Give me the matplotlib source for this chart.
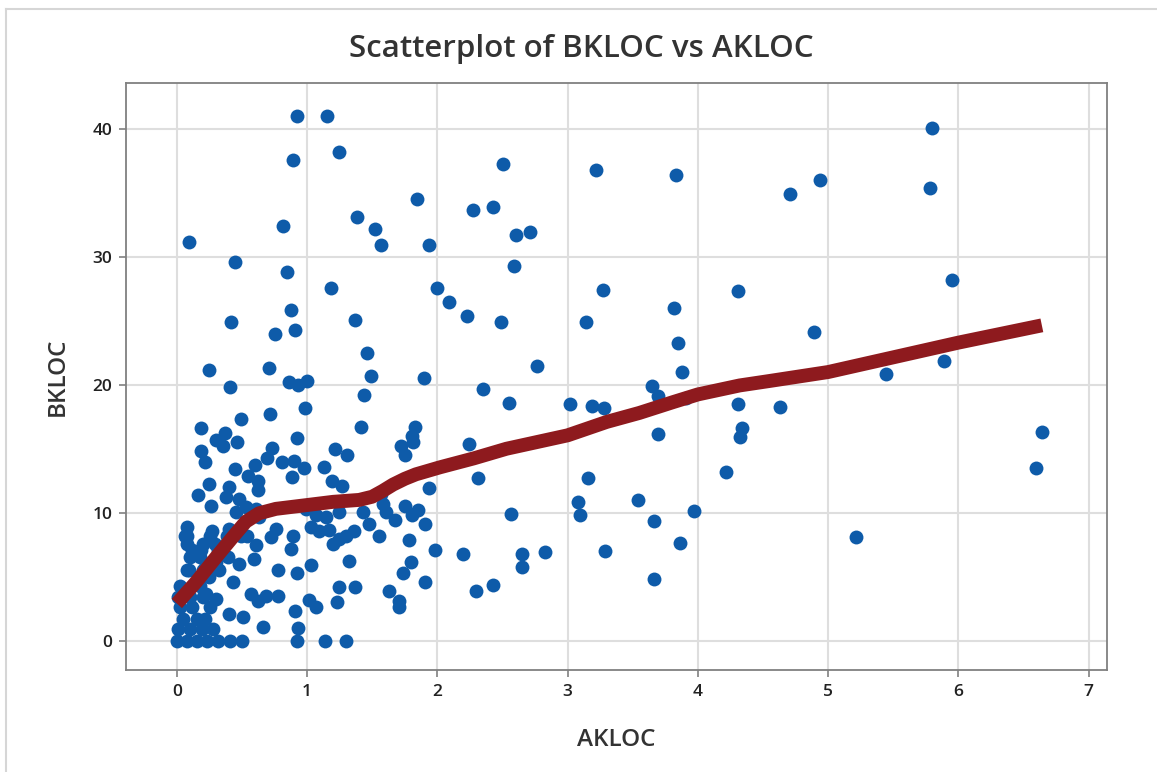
import matplotlib
matplotlib.use("Agg")
import matplotlib.pyplot as plt
from matplotlib.lines import Line2D

# ── Dados (AKLOC, BKLOC) por região ──────────────────────────────────────────
pts_direita = [
    (4.706, 34.95), (4.936, 36.05), (5.796, 40.1), (5.783, 35.4), (5.952, 28.2),
    (4.89, 24.1), (5.443, 20.85), (5.888, 21.9), (4.63, 18.3), (6.642, 16.3),
    (6.596, 13.46), (5.213, 8.1),
]

pts_meio = [
    (2.506, 37.3), (3.215, 36.8), (3.831, 36.4), (2.276, 33.7), (2.43, 33.9),
    (2.603, 31.7), (2.708, 31.95), (2.585, 29.3), (2.0, 27.6), (2.09, 26.45),
    (2.23, 25.4), (2.49, 24.9), (3.273, 27.45), (3.138, 24.9), (3.816, 26.0),
    (4.307, 27.3), (3.844, 23.3), (3.877, 21.0), (2.767, 21.5), (2.352, 19.7),
    (2.552, 18.6), (3.015, 18.5), (3.184, 18.35), (3.281, 18.2), (3.647, 19.9),
    (3.695, 19.1), (3.908, 18.95), (4.307, 18.5), (4.335, 16.6), (4.322, 15.95),
    (3.69, 16.15), (2.245, 15.35), (2.309, 12.7), (3.153, 12.7), (4.215, 13.2),
    (3.077, 10.85), (3.094, 9.85), (3.54, 11.0), (3.66, 9.37), (3.97, 10.16),
    (2.567, 9.87), (1.98, 7.1), (2.2, 6.75), (2.647, 6.75), (2.647, 5.77),
    (2.828, 6.9), (3.29, 7.0), (3.862, 7.65), (2.294, 3.9), (2.43, 4.36),
    (3.66, 4.83),
]

pts_topo_esq = [
    (0.925, 41.05), (1.155, 41.05), (1.247, 38.2), (0.894, 37.6), (1.846, 34.5),
    (1.385, 33.1), (1.523, 32.2), (1.57, 30.9), (1.935, 30.9), (0.815, 32.4),
    (0.094, 31.2), (0.447, 29.6), (0.846, 28.85), (1.186, 27.6), (0.876, 25.85),
    (0.416, 24.9), (1.37, 25.05), (0.91, 24.3), (0.754, 24.0), (1.462, 22.45),
    (0.25, 21.15), (0.708, 21.35), (1.49, 20.7), (1.895, 20.5),
]

pts_baixo_esq = [
    (0.405, 19.8), (0.86, 20.2), (0.93, 20.0), (1.0, 20.3), (1.44, 19.2),
    (0.986, 18.2), (0.717, 17.75), (0.493, 17.3), (0.186, 16.65), (1.414, 16.7),
    (1.83, 16.7), (0.372, 16.2), (0.30, 15.7), (0.352, 15.25), (0.462, 15.5),
    (0.922, 15.85), (1.805, 16.0), (1.81, 15.5), (1.72, 15.2), (1.75, 14.55),
    (0.186, 14.85), (0.216, 13.95), (0.734, 15.05), (0.695, 14.3), (1.216, 15.0),
    (1.303, 14.55), (0.81, 14.0), (0.897, 14.05), (0.978, 13.5), (0.883, 12.8),
    (0.449, 13.4), (0.602, 13.7), (1.13, 13.6), (0.544, 12.9), (0.25, 12.25),
    (0.16, 11.4), (0.62, 12.5), (0.403, 12.0), (0.62, 11.75), (1.19, 12.45),
    (1.27, 12.05), (1.938, 11.9), (0.262, 10.5), (0.378, 11.2), (0.48, 11.1),
    (1.567, 11.5), (0.454, 10.05), (0.531, 10.45), (0.633, 9.65), (0.608, 10.3),
    (0.992, 10.3), (1.07, 9.8), (1.145, 9.65), (1.248, 10.05), (1.427, 10.05),
    (1.58, 10.7), (1.605, 10.05), (1.754, 10.5), (1.85, 10.2), (1.908, 9.15),
    (1.677, 9.4), (1.477, 9.1), (1.805, 9.8), (0.078, 8.85), (0.078, 8.15),
    (0.27, 8.6), (0.403, 8.75), (1.03, 8.85), (1.094, 8.6), (1.17, 8.65),
    (1.3, 8.2), (1.362, 8.6), (0.761, 8.75), (0.493, 8.2), (0.403, 7.95),
    (0.723, 8.1), (0.889, 8.2), (1.554, 8.2), (1.784, 7.9), (1.196, 7.55),
    (1.248, 7.95), (0.876, 7.2), (0.608, 7.45), (0.595, 6.4), (0.122, 6.8),
    (0.186, 7.05), (0.096, 5.5), (0.224, 5.9), (0.30, 6.15), (0.326, 5.5),
    (0.48, 6.0), (0.39, 6.5), (0.25, 4.95), (0.429, 4.55), (0.774, 5.5),
    (0.922, 5.3), (1.03, 5.9), (1.324, 6.2), (1.734, 5.3), (1.797, 6.15),
    (1.908, 4.55), (1.248, 4.2), (1.37, 4.2), (1.631, 3.9), (1.708, 3.1),
    (1.708, 2.6), (0.57, 3.65), (0.62, 3.1), (0.684, 3.5), (0.774, 3.5),
    (1.017, 3.2), (1.068, 2.6), (1.23, 3.0), (0.91, 2.35), (0.403, 2.1),
    (0.51, 1.85), (0.66, 1.05), (0.928, 1.0), (0.30, 3.25), (0.224, 3.65),
]

pts_zero = [
    (0.0, 0), (0.077, 0), (0.153, 0), (0.23, 0), (0.32, 0), (0.41, 0),
    (0.498, 0), (0.922, 0), (1.14, 0), (1.30, 0),
]

pts_nucleo = [
    (0.012, 0.9), (0.1, 0.9), (0.19, 0.9), (0.28, 0.9), (0.05, 1.7),
    (0.153, 1.7), (0.216, 1.7), (0.025, 2.6), (0.114, 2.6), (0.255, 2.6),
    (0.012, 3.4), (0.1, 3.4), (0.204, 3.4), (0.025, 4.3), (0.178, 4.3),
    (0.076, 5.5), (0.204, 5.5), (0.1, 6.5), (0.178, 6.5), (0.114, 7.05),
    (0.32, 7.05), (0.076, 7.55), (0.204, 7.55), (0.293, 7.55), (0.063, 8.2),
    (0.255, 8.2), (0.383, 8.2), (0.536, 8.2),
]

# curva de suavização (lowess)
lowess_x = [0.0, 0.15, 0.3, 0.43, 0.53, 0.63, 0.76, 1.0, 1.2, 1.4, 1.5, 1.58,
            1.66, 1.75, 1.835, 2.02, 2.28, 2.53, 3.0, 3.3, 3.55, 3.81, 4.0,
            4.32, 4.55, 5.0, 6.0, 6.64]
lowess_y = [2.9, 4.6, 6.5, 8.1, 9.3, 9.95, 10.3, 10.6, 10.85, 11.0, 11.25,
            11.7, 12.2, 12.65, 13.0, 13.55, 14.25, 15.0, 16.05, 17.1, 17.8,
            18.65, 19.25, 19.95, 20.3, 21.0, 23.3, 24.65]

x_ticks = [0, 1, 2, 3, 4, 5, 6, 7]
y_ticks = [0, 10, 20, 30, 40]

AZUL = "#0E5BA9"
VERMELHO = "#8E1A1E"
CINZA = "#333333"

todos = pts_direita + pts_meio + pts_topo_esq + pts_baixo_esq + pts_zero + pts_nucleo
akloc = [p[0] for p in todos]
bkloc = [p[1] for p in todos]

plt.rcParams["font.family"] = ["Open Sans", "DejaVu Sans"]

fig = plt.figure(figsize=(11.57, 7.72), dpi=100)
ax = fig.add_axes([126 / 1157, 1 - 670 / 772, (1107 - 126) / 1157, (670 - 83) / 772])

ax.plot(akloc, bkloc, "o", color=AZUL, markersize=10, markeredgewidth=0, zorder=3)
ax.plot(lowess_x, lowess_y, color=VERMELHO, linewidth=10, solid_capstyle="butt",
        solid_joinstyle="round", zorder=4)

ax.set_xlim(-0.39, 7.14)
ax.set_ylim(-2.3, 43.6)
ax.set_xticks(x_ticks)
ax.set_yticks(y_ticks)
ax.grid(True, color="#DEDEDE", linewidth=1.5)
ax.set_axisbelow(True)

for s in ax.spines.values():
    s.set_color("#808080")
    s.set_linewidth(1.3)
ax.tick_params(axis="both", direction="out", length=5, width=1.2, color="#808080",
               labelsize=12.5, labelcolor="#222222", pad=5)
for lb in ax.get_xticklabels() + ax.get_yticklabels():
    lb.set_fontweight("semibold")

ax.set_xlabel("AKLOC", fontsize=17.5, color=CINZA, labelpad=20, fontweight="semibold")
ax.set_ylabel("BKLOC", fontsize=17.5, color=CINZA, labelpad=16, fontweight="semibold")
fig.text(581 / 1157, 1 - 49 / 772, "Scatterplot of BKLOC vs AKLOC", ha="center",
         va="center", fontsize=22.5, color=CINZA, fontweight="semibold")

# moldura clara (só topo e esquerda, como no recorte original)
fig.add_artist(Line2D([6 / 1157, 6 / 1157], [0, 1 - 9 / 772], transform=fig.transFigure,
                      color="#D6D6D6", linewidth=1.5))
fig.add_artist(Line2D([6 / 1157, 1], [1 - 9 / 772, 1 - 9 / 772], transform=fig.transFigure,
                      color="#D6D6D6", linewidth=1.5))

plt.savefig("out.png", dpi=100)
plt.close()
